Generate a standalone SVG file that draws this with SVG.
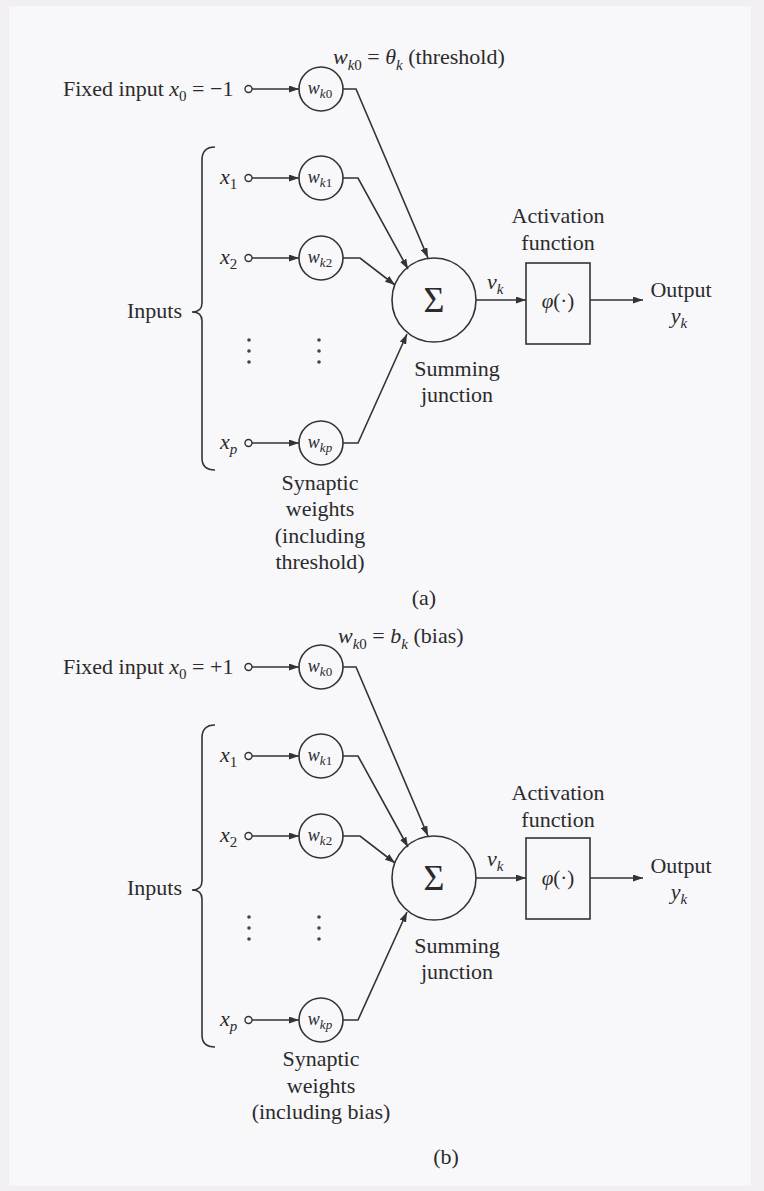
<svg xmlns="http://www.w3.org/2000/svg" width="764" height="1191" viewBox="0 0 764 1191">
<style>
.ln{fill:none;stroke:#333;stroke-width:1.6}
.nd{fill:none;stroke:#333;stroke-width:1.6}
.pt{fill:#f8f7fa;stroke:#333;stroke-width:1.4}
.dot{fill:#444}
text{font-family:"Liberation Serif","Times New Roman",serif;font-size:22px;fill:#2b2b2b}
.i{font-style:italic}
.w{font-size:18px}
.sig{font-size:36px}
.phi{font-size:21px}
.c{text-anchor:middle}
</style>
<defs>
<marker id="ah" viewBox="0 0 10 7" refX="10" refY="3.5" markerWidth="10" markerHeight="7" markerUnits="userSpaceOnUse" orient="auto">
<path d="M0,0 L10,3.5 L0,7 z" fill="#333"/>
</marker>
</defs>
<rect x="0" y="0" width="764" height="1191" fill="#f1eff4"/>
<rect x="9" y="6" width="742" height="1180" fill="#f8f7fa"/>

<!-- ===== Part (a) ===== -->
<g id="a-labels">
<text x="333" y="64"><tspan class="i">w</tspan><tspan dy="6" font-size="15"><tspan class="i">k</tspan>0</tspan><tspan dy="-6"> = </tspan><tspan class="i">θ</tspan><tspan dy="6" font-size="15" class="i">k</tspan><tspan dy="-6"> (threshold)</tspan></text>
<text x="63" y="96">Fixed input <tspan class="i">x</tspan><tspan dy="5" font-size="15">0</tspan><tspan dy="-5"> = −1</tspan></text>
<text x="127" y="318">Inputs</text>
<text x="320" y="490" class="c">Synaptic</text>
<text x="320" y="516" class="c">weights</text>
<text x="320" y="543" class="c">(including</text>
<text x="320" y="569" class="c">threshold)</text>
<text x="424" y="605" class="c">(a)</text>
</g>
<g id="a-inputs">
<path class="ln" d="M215,147 Q202,147 202,160 L202,303 Q202,312 192,312 Q202,312 202,321 L202,458 Q202,470 215,470"/>
<text x="220" y="184"><tspan class="i">x</tspan><tspan dy="5" font-size="15">1</tspan></text>
<text x="220" y="264"><tspan class="i">x</tspan><tspan dy="5" font-size="15">2</tspan></text>
<text x="220" y="449"><tspan class="i">x</tspan><tspan dy="5" font-size="15" class="i">p</tspan></text>
<circle class="pt" cx="248.5" cy="89" r="3.5"/>
<circle class="pt" cx="248.5" cy="178" r="3.5"/>
<circle class="pt" cx="248.5" cy="258" r="3.5"/>
<circle class="pt" cx="248.5" cy="443" r="3.5"/>
<circle class="dot" cx="249" cy="340" r="1.8"/><circle class="dot" cx="249" cy="351" r="1.8"/><circle class="dot" cx="249" cy="362" r="1.8"/>
<circle class="dot" cx="319" cy="340" r="1.8"/><circle class="dot" cx="319" cy="351" r="1.8"/><circle class="dot" cx="319" cy="362" r="1.8"/>
</g>
<g id="a-wk0"><circle class="nd" cx="321" cy="89" r="22"/><text x="320" y="94" class="c w"><tspan class="i">w</tspan><tspan dy="4" font-size="13"><tspan class="i">k</tspan>0</tspan></text></g>
<g id="a-wk1"><circle class="nd" cx="321" cy="178" r="22"/><text x="320" y="183" class="c w"><tspan class="i">w</tspan><tspan dy="4" font-size="13"><tspan class="i">k</tspan>1</tspan></text></g>
<g id="a-wk2"><circle class="nd" cx="321" cy="258" r="22"/><text x="320" y="263" class="c w"><tspan class="i">w</tspan><tspan dy="4" font-size="13"><tspan class="i">k</tspan>2</tspan></text></g>
<g id="a-wkp"><circle class="nd" cx="321" cy="443" r="22"/><text x="320" y="448" class="c w"><tspan class="i">w</tspan><tspan dy="4" font-size="13" class="i">kp</tspan></text></g>
<g id="a-sum">
<circle class="nd" cx="434" cy="300" r="42"/>
<text x="434" y="312" class="c sig">Σ</text>
<text x="457" y="376" class="c">Summing</text>
<text x="457" y="402" class="c">junction</text>
</g>
<g id="a-act">
<rect class="nd" x="526" y="263" width="64" height="81"/>
<text x="558" y="308" class="c phi"><tspan class="i">φ</tspan>(·)</text>
<text x="558" y="223" class="c">Activation</text>
<text x="558" y="250" class="c">function</text>
</g>
<g id="a-out">
<text x="681" y="297" class="c">Output</text>
<text x="679" y="323" class="c"><tspan class="i">y</tspan><tspan dy="5" font-size="15" class="i">k</tspan></text>
</g>
<text x="487" y="289"><tspan class="i">v</tspan><tspan dy="5" font-size="15" class="i">k</tspan></text>

<!-- ===== Part (b) ===== -->
<g id="b-labels">
<text x="338" y="643"><tspan class="i">w</tspan><tspan dy="6" font-size="15"><tspan class="i">k</tspan>0</tspan><tspan dy="-6"> = </tspan><tspan class="i">b</tspan><tspan dy="6" font-size="15" class="i">k</tspan><tspan dy="-6"> (bias)</tspan></text>
<text x="63" y="674">Fixed input <tspan class="i">x</tspan><tspan dy="5" font-size="15">0</tspan><tspan dy="-5"> = +1</tspan></text>
<text x="127" y="895">Inputs</text>
<text x="321" y="1066" class="c">Synaptic</text>
<text x="321" y="1093" class="c">weights</text>
<text x="321" y="1119" class="c">(including bias)</text>
<text x="446" y="1164" class="c">(b)</text>
</g>
<g id="b-inputs">
<path class="ln" d="M215,725 Q202,725 202,738 L202,881 Q202,890 192,890 Q202,890 202,899 L202,1035 Q202,1047 215,1047"/>
<text x="220" y="762"><tspan class="i">x</tspan><tspan dy="5" font-size="15">1</tspan></text>
<text x="220" y="842"><tspan class="i">x</tspan><tspan dy="5" font-size="15">2</tspan></text>
<text x="220" y="1026"><tspan class="i">x</tspan><tspan dy="5" font-size="15" class="i">p</tspan></text>
<circle class="pt" cx="248.5" cy="667" r="3.5"/>
<circle class="pt" cx="248.5" cy="756" r="3.5"/>
<circle class="pt" cx="248.5" cy="836" r="3.5"/>
<circle class="pt" cx="248.5" cy="1020" r="3.5"/>
<circle class="dot" cx="249" cy="917" r="1.8"/><circle class="dot" cx="249" cy="928" r="1.8"/><circle class="dot" cx="249" cy="939" r="1.8"/>
<circle class="dot" cx="319" cy="917" r="1.8"/><circle class="dot" cx="319" cy="928" r="1.8"/><circle class="dot" cx="319" cy="939" r="1.8"/>
</g>
<g id="b-wk0"><circle class="nd" cx="321" cy="667" r="22"/><text x="320" y="672" class="c w"><tspan class="i">w</tspan><tspan dy="4" font-size="13"><tspan class="i">k</tspan>0</tspan></text></g>
<g id="b-wk1"><circle class="nd" cx="321" cy="756" r="22"/><text x="320" y="761" class="c w"><tspan class="i">w</tspan><tspan dy="4" font-size="13"><tspan class="i">k</tspan>1</tspan></text></g>
<g id="b-wk2"><circle class="nd" cx="321" cy="836" r="22"/><text x="320" y="841" class="c w"><tspan class="i">w</tspan><tspan dy="4" font-size="13"><tspan class="i">k</tspan>2</tspan></text></g>
<g id="b-wkp"><circle class="nd" cx="321" cy="1020" r="22"/><text x="320" y="1025" class="c w"><tspan class="i">w</tspan><tspan dy="4" font-size="13" class="i">kp</tspan></text></g>
<g id="b-sum">
<circle class="nd" cx="434" cy="878" r="42"/>
<text x="434" y="890" class="c sig">Σ</text>
<text x="457" y="953" class="c">Summing</text>
<text x="457" y="979" class="c">junction</text>
</g>
<g id="b-act">
<rect class="nd" x="526" y="838" width="64" height="81"/>
<text x="558" y="885" class="c phi"><tspan class="i">φ</tspan>(·)</text>
<text x="558" y="800" class="c">Activation</text>
<text x="558" y="827" class="c">function</text>
</g>
<g id="b-out">
<text x="681" y="873" class="c">Output</text>
<text x="679" y="899" class="c"><tspan class="i">y</tspan><tspan dy="5" font-size="15" class="i">k</tspan></text>
</g>
<text x="487" y="866"><tspan class="i">v</tspan><tspan dy="5" font-size="15" class="i">k</tspan></text>

<!-- ===== Connectors ===== -->
<g id="connectors">
<line class="ln" x1="252" y1="89" x2="299" y2="89" marker-end="url(#ah)"/>
<line class="ln" x1="252" y1="178" x2="299" y2="178" marker-end="url(#ah)"/>
<line class="ln" x1="252" y1="258" x2="299" y2="258" marker-end="url(#ah)"/>
<line class="ln" x1="252" y1="443" x2="299" y2="443" marker-end="url(#ah)"/>
<path class="ln" d="M343,89 H356 L428,258" marker-end="url(#ah)"/>
<path class="ln" d="M343,178 H358 L408,269" marker-end="url(#ah)"/>
<path class="ln" d="M343,258 H360 L395,285" marker-end="url(#ah)"/>
<path class="ln" d="M343,443 H358 L407,334" marker-end="url(#ah)"/>
<line class="ln" x1="476" y1="300" x2="526" y2="300" marker-end="url(#ah)"/>
<line class="ln" x1="590" y1="300" x2="643" y2="300" marker-end="url(#ah)"/>

<line class="ln" x1="252" y1="667" x2="299" y2="667" marker-end="url(#ah)"/>
<line class="ln" x1="252" y1="756" x2="299" y2="756" marker-end="url(#ah)"/>
<line class="ln" x1="252" y1="836" x2="299" y2="836" marker-end="url(#ah)"/>
<line class="ln" x1="252" y1="1020" x2="299" y2="1020" marker-end="url(#ah)"/>
<path class="ln" d="M343,667 H356 L428,836" marker-end="url(#ah)"/>
<path class="ln" d="M343,756 H358 L408,847" marker-end="url(#ah)"/>
<path class="ln" d="M343,836 H360 L395,863" marker-end="url(#ah)"/>
<path class="ln" d="M343,1020 H358 L407,912" marker-end="url(#ah)"/>
<line class="ln" x1="476" y1="878" x2="526" y2="878" marker-end="url(#ah)"/>
<line class="ln" x1="590" y1="878" x2="643" y2="878" marker-end="url(#ah)"/>
</g>
</svg>
